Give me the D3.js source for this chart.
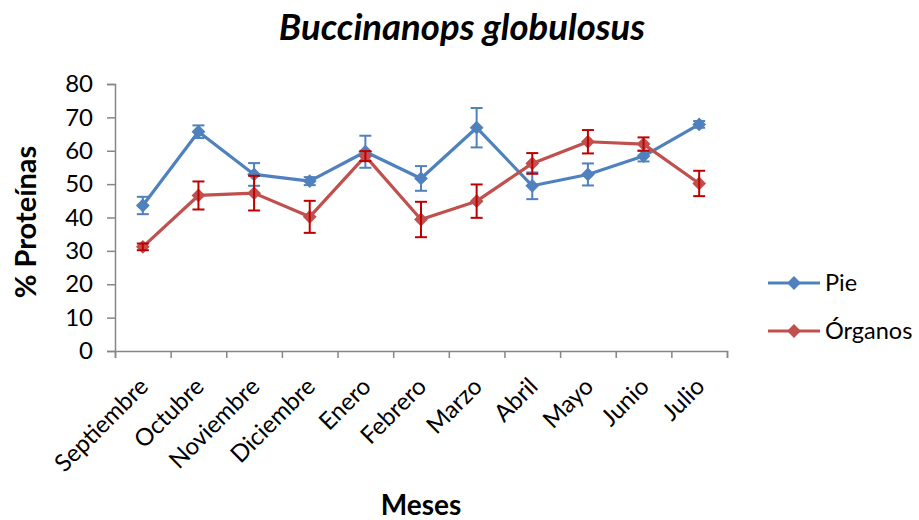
<!DOCTYPE html>
<html>
<head>
<meta charset="utf-8">
<script src="https://cdn.jsdelivr.net/npm/d3@7"></script>
<style>
  html, body { margin: 0; padding: 0; background: #fff; }
  svg { display: block; font-family: Lato, "Open Sans", sans-serif; }
</style>
</head>
<body>
<svg id="chart" width="919" height="520"></svg>
<script>
// Monthly protein content (%) of Buccinanops globulosus tissues
const months = ["Septiembre", "Octubre", "Noviembre", "Diciembre", "Enero", "Febrero",
                "Marzo", "Abril", "Mayo", "Junio", "Julio"];
const pieValues = [43.6, 65.7, 52.9, 50.9, 59.7, 51.7, 66.9, 49.5, 52.9, 58.4, 67.9];
const pieErrors = [2.6, 1.9, 3.4, 1.2, 4.8, 3.7, 5.9, 4.0, 3.3, 1.6, 1.0];
const organosValues = [31.2, 46.6, 47.3, 40.2, 58.4, 39.4, 44.9, 56.2, 62.7, 62.0, 50.2];
const organosErrors = [1.0, 4.2, 5.2, 4.8, 1.5, 5.3, 5.0, 3.1, 3.5, 2.0, 3.8];
const yTicks = [0, 10, 20, 30, 40, 50, 60, 70, 80];

const series = [
  { name: "Pie", values: pieValues, errors: pieErrors, color: "#4F81BD", errColor: "#4F81BD" },
  { name: "Órganos", values: organosValues, errors: organosErrors, color: "#C0504D", errColor: "#C00000" }
];

const svg = d3.select("#chart");
const plotLeft = 115, plotRight = 727, plotTop = 84, plotBottom = 351;
const axisColor = "#868686";

const x = d3.scaleBand().domain(months).range([plotLeft, plotRight]).padding(0);
const y = d3.scaleLinear().domain([0, 80]).range([plotBottom, plotTop]);
const cx = m => x(m) + x.bandwidth() / 2;

// Title
svg.append("text")
  .attr("x", 462).attr("y", 40)
  .attr("text-anchor", "middle")
  .attr("font-size", 36.5).attr("font-weight", "bold").attr("font-style", "italic")
  .text("Buccinanops globulosus");

// Y axis
const yAxis = svg.append("g")
  .attr("transform", `translate(${plotLeft},0)`)
  .call(d3.axisLeft(y).tickValues(yTicks).tickSize(8).tickPadding(14));
yAxis.select(".domain").attr("stroke", axisColor).attr("stroke-width", 1.5);
yAxis.selectAll(".tick line").attr("stroke", axisColor).attr("stroke-width", 1.5);
yAxis.selectAll(".tick text").attr("font-size", 24).attr("fill", "#000")
  .attr("font-family", "Lato, sans-serif");

// X axis: ticks at category boundaries
const edge = d3.scaleLinear().domain([0, months.length]).range([plotLeft, plotRight]);
const xAxis = svg.append("g")
  .attr("transform", `translate(0,${plotBottom})`)
  .call(d3.axisBottom(edge).tickValues(d3.range(months.length + 1)).tickSize(7).tickFormat(""));
xAxis.select(".domain").attr("stroke", axisColor).attr("stroke-width", 1.5);
xAxis.selectAll(".tick line").attr("stroke", axisColor).attr("stroke-width", 1.5);

// Rotated month labels
svg.append("g").selectAll("text")
  .data(months)
  .join("text")
  .attr("transform", d => `translate(${cx(d) + 7},${plotBottom + 37}) rotate(-45)`)
  .attr("text-anchor", "end")
  .attr("font-size", 24)
  .text(d => d);

// Axis titles
svg.append("text")
  .attr("transform", "translate(36,222) rotate(-90)")
  .attr("text-anchor", "middle")
  .attr("font-size", 29).attr("font-weight", "bold")
  .text("% Proteínas");

svg.append("text")
  .attr("x", 421).attr("y", 515)
  .attr("text-anchor", "middle")
  .attr("font-size", 28).attr("font-weight", "bold")
  .text("Meses");

// Series
const line = d3.line().x(d => cx(d.m)).y(d => y(d.v));
const diamond = d3.symbol().type(d3.symbolSquare).size(95);

series.forEach(s => {
  const pts = months.map((m, i) => ({ m, v: s.values[i], e: s.errors[i] }));
  const g = svg.append("g");

  g.append("path")
    .datum(pts)
    .attr("d", line)
    .attr("fill", "none")
    .attr("stroke", s.color)
    .attr("stroke-width", 3.2)
    .attr("stroke-linejoin", "round");

  g.selectAll(".mk")
    .data(pts)
    .join("path")
    .attr("d", diamond)
    .attr("transform", d => `translate(${cx(d.m)},${y(d.v)}) rotate(45)`)
    .attr("fill", s.color);

  const eb = g.selectAll(".eb").data(pts).join("g").attr("stroke", s.errColor).attr("stroke-width", 2);
  eb.append("line")
    .attr("x1", d => cx(d.m)).attr("x2", d => cx(d.m))
    .attr("y1", d => y(d.v + d.e)).attr("y2", d => y(d.v - d.e));
  eb.append("line")
    .attr("x1", d => cx(d.m) - 6).attr("x2", d => cx(d.m) + 6)
    .attr("y1", d => y(d.v + d.e)).attr("y2", d => y(d.v + d.e));
  eb.append("line")
    .attr("x1", d => cx(d.m) - 6).attr("x2", d => cx(d.m) + 6)
    .attr("y1", d => y(d.v - d.e)).attr("y2", d => y(d.v - d.e));
});

// Legend
const legend = svg.append("g");
series.forEach((s, i) => {
  const ly = 283 + i * 48;
  legend.append("line")
    .attr("x1", 768).attr("x2", 820).attr("y1", ly).attr("y2", ly)
    .attr("stroke", s.color).attr("stroke-width", 3.2);
  legend.append("path")
    .attr("d", diamond)
    .attr("transform", `translate(794,${ly}) rotate(45)`)
    .attr("fill", s.color);
  legend.append("text")
    .attr("x", 825).attr("y", ly + 8)
    .attr("font-size", 23.5)
    .text(s.name);
});
</script>
</body>
</html>
